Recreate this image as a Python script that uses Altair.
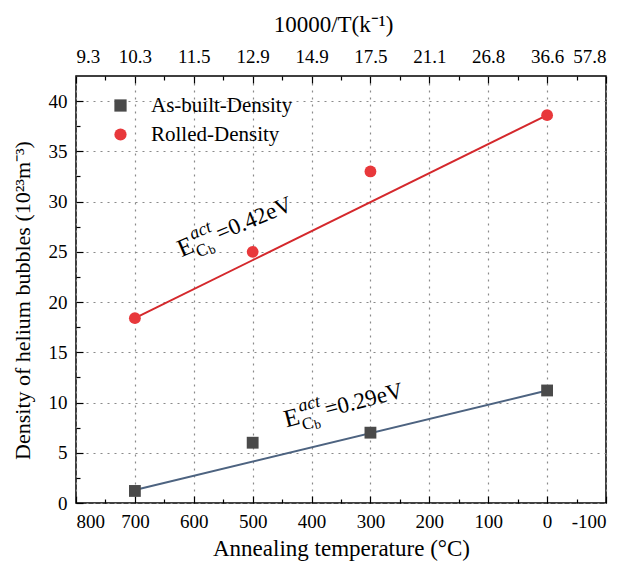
import altair as alt
import pandas as pd

# ---------------- data ----------------
series_names = ["As-built-Density", "Rolled-Density"]
temps = [700, 500, 300, 0]
asbuilt_density = [1.2, 6.0, 7.0, 11.2]
rolled_density = [18.4, 25.0, 33.0, 38.6]

fit_temps = [700, 0]
fit_asbuilt = [1.3, 11.2]
fit_rolled = [18.4, 38.6]

major_x = [800, 700, 600, 500, 400, 300, 200, 100, 0, -100]
minor_x = [750, 650, 550, 450, 350, 250, 150, 50, -50]
top_labels = ["9.3", "10.3", "11.5", "12.9", "14.9", "17.5", "21.1", "26.8", "36.6", "57.8"]
major_y = [0, 5, 10, 15, 20, 25, 30, 35, 40]
minor_y = [2.5, 7.5, 12.5, 17.5, 22.5, 27.5, 32.5, 37.5]

ann_text = ["=0.42eV", "=0.29eV"]
ann_x = [621, 443]
ann_y = [24.45, 7.51]
ann_angle = [-23, -14.5]

marker_colors = ["#4a4a4a", "#e8383b"]
line_colors = ["#4d6380", "#d4282c"]
FONT = "Liberation Serif"

points = pd.DataFrame({
    "series": [series_names[0]] * 4 + [series_names[1]] * 4,
    "temp": temps + temps,
    "density": asbuilt_density + rolled_density,
})
line_asb = pd.DataFrame({"temp": fit_temps, "density": fit_asbuilt})
line_rol = pd.DataFrame({"temp": fit_temps, "density": fit_rolled})

W, H = 530, 427
xscale = alt.Scale(domain=[-100, 800], reverse=True, nice=False, zero=False)
yscale = alt.Scale(domain=[0, 42.5], nice=False, zero=False)

common_axis = dict(labelFont=FONT, titleFont=FONT, labelColor="black", titleColor="black",
                   tickColor="black", tickWidth=1.2, domain=False, titleFontWeight="normal")

ax_bottom_major = alt.Axis(orient="bottom", values=major_x, labelExpr="datum.value + ''",
                           labelFontSize=19, labelPadding=16, tickSize=alt.ExprRef(expr="-7"),
                           grid=True, gridDash=[2, 5], gridColor="#8a8a8a", gridWidth=1.2,
                           title="Annealing temperature (°C)", titleFontSize=23,
                           titleX=W / 2, titleY=45, titleBaseline="middle", **common_axis)
ax_bottom_minor = alt.Axis(orient="bottom", values=minor_x, labels=False, grid=False,
                           tickSize=alt.ExprRef(expr="-4"), title=None, **common_axis)

top_expr = "[" + ",".join("'%s'" % s for s in top_labels) + "][indexof([" + \
    ",".join(str(v) for v in major_x) + "], datum.value)]"
ax_top_major = alt.Axis(orient="top", values=major_x, labelExpr=top_expr,
                        labelFontSize=19, labelPadding=17, tickSize=alt.ExprRef(expr="-7"),
                        grid=False, title="10000/T(k⁻¹)", titleFontSize=23,
                        titleX=W / 2 - 8, titleY=-52, titleBaseline="middle", **common_axis)
ax_top_minor = alt.Axis(orient="top", values=minor_x, labels=False, grid=False,
                        tickSize=alt.ExprRef(expr="-4"), title=None, **common_axis)

ax_left_major = alt.Axis(orient="left", values=major_y, labelFontSize=19, labelPadding=16,
                         tickSize=alt.ExprRef(expr="-7"), grid=True, gridDash=[2, 5],
                         gridColor="#8a8a8a", gridWidth=1.2,
                         title="Density of helium bubbles (10²³m⁻³)", titleFontSize=22,
                         titleX=-54, titleY=224, titleBaseline="middle", **common_axis)
ax_left_minor = alt.Axis(orient="left", values=minor_y, labels=False, grid=False,
                         tickSize=alt.ExprRef(expr="-4"), title=None, **common_axis)

line1 = alt.Chart(line_asb).mark_line(strokeWidth=2, color=line_colors[0]).encode(
    x=alt.X("temp:Q", scale=xscale, axis=ax_bottom_major),
    y=alt.Y("density:Q", scale=yscale, axis=ax_left_major),
)
line2 = alt.Chart(line_rol).mark_line(strokeWidth=2, color=line_colors[1]).encode(
    x=alt.X("temp:Q", scale=xscale, axis=None),
    y=alt.Y("density:Q", scale=yscale, axis=None),
)

legend = alt.Legend(orient="none", legendX=30, legendY=15, title=None,
                    labelFontSize=21, labelColor="black", symbolSize=150, symbolStrokeWidth=0,
                    rowPadding=7, labelOffset=20, padding=4)

point_layer = alt.Chart(points).mark_point(filled=True, opacity=1, size=140).encode(
    x=alt.X("temp:Q", scale=xscale, axis=ax_bottom_minor),
    y=alt.Y("density:Q", scale=yscale, axis=ax_left_minor),
    color=alt.Color("series:N", scale=alt.Scale(domain=series_names, range=marker_colors), legend=legend),
    shape=alt.Shape("series:N", scale=alt.Scale(domain=series_names, range=["square", "circle"]), legend=legend),
)

# annotation pieces: (text, dx, dy, size, style) -- offsets are in the rotated text frame
text_layers = []
for i in range(2):
    pieces = [("E", 0, 0, 25, "normal"), ("act", 17, -12, 18, "italic"),
              ("C", 16, 7, 17, "normal"), ("b", 28, 9, 13, "normal"),
              (ann_text[i], 42, 0, 23, "normal")]
    for j, (t, u, v, s, st) in enumerate(pieces):
        df = pd.DataFrame({"x": [ann_x[i]], "y": [ann_y[i]], "t": [t]})
        if i == 0 and j == 0:
            xax = ax_top_major
        elif i == 0 and j == 1:
            xax = ax_top_minor
        else:
            xax = None
        lyr = alt.Chart(df).mark_text(
            align="left", baseline="alphabetic", font=FONT, fontSize=s, fontStyle=st,
            angle=(ann_angle[i] + 360) % 360, dx=u, dy=v, color="black"
        ).encode(
            x=alt.X("x:Q", scale=xscale, axis=xax),
            y=alt.Y("y:Q", scale=yscale, axis=None),
            text="t:N",
        )
        text_layers.append(lyr)

chart = alt.layer(line1, line2, point_layer, *text_layers).resolve_axis(
    x="independent", y="independent"
).properties(
    width=W, height=H,
    background="white",
    autosize=alt.AutoSizeParams(type="none"),
    padding={"left": 68, "top": 68, "right": 11, "bottom": 60},
).configure(
    font=FONT
).configure_view(
    stroke="black", strokeWidth=1.5
).configure_axis(
    labelFont=FONT, titleFont=FONT
).configure_legend(
    labelFont=FONT
)

chart.save("out.html", embed_options={"renderer": "svg", "actions": False})
